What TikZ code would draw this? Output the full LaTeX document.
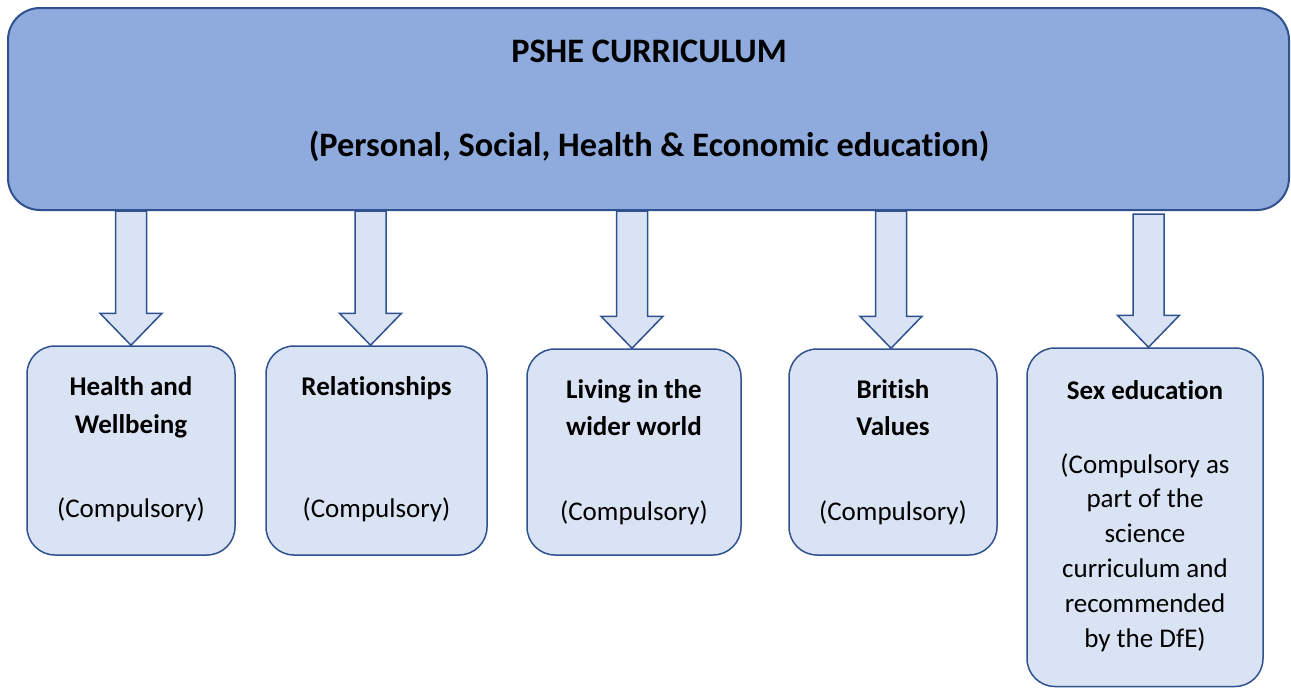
\documentclass[tikz,border=0pt]{standalone}
\usepackage{fontspec}
\setmainfont{Carlito}[Ligatures={NoCommon}]
\usetikzlibrary{calc}
\definecolor{topfill}{HTML}{8FAADC}
\definecolor{edge}{HTML}{2F528F}
\definecolor{lightfill}{HTML}{DAE3F3}
\tikzset{
 topbox/.style={draw=edge, fill=topfill, line width=2pt, rounded corners=32pt, inner sep=0pt},
 lbox/.style={draw=edge, fill=lightfill, line width=1.5pt, rounded corners=28pt, inner sep=0pt},
 barrowstyle/.style={draw=edge, fill=lightfill, line width=1.5pt, line join=miter},
 ttl/.style={anchor=base, font=\bfseries\fontsize{27}{34}\selectfont, inner sep=0pt},
 sub/.style={anchor=base, font=\fontsize{27}{34}\selectfont, inner sep=0pt},
 head/.style={anchor=base, font=\bfseries\fontsize{34.3}{41}\selectfont, inner sep=0pt},
}
\newcommand\blockarr[3]{%
 \draw[barrowstyle] let \p1=($(#2.north)+(#1pt,0)$), \p2=(top.south) in
 (\x1-15.5pt,\y2-#3pt) -- (\x1-15.5pt,\y1+32pt) -- (\x1-31pt,\y1+32pt) -- (\x1,\y1)
 -- (\x1+31pt,\y1+32pt) -- (\x1+15.5pt,\y1+32pt) -- (\x1+15.5pt,\y2-#3pt) -- cycle;}
\begin{document}
\begin{tikzpicture}[x=1pt,y=-1pt]
\useasboundingbox (0,0) rectangle (1291,688);
\fill[white] (0,0) rectangle (1291,688);
% top box
\node[topbox, minimum width=1281pt, minimum height=202pt] (top) at (648.5,109) {};
\node[head] (h1) at (649,62) {PSHE CURRICULUM};
\node[head] (h2) at (649,156) {(Personal, Social, Health \& Economic education)};
% lower boxes
\node[lbox, minimum width=208pt, minimum height=209pt] (b1) at (131,450.5) {};
\node[lbox, minimum width=221pt, minimum height=209pt] (b2) at (376.5,450.5) {};
\node[lbox, minimum width=214pt, minimum height=206pt] (b3) at (634,452) {};
\node[lbox, minimum width=208pt, minimum height=206pt] (b4) at (893,452) {};
\node[lbox, minimum width=236pt, minimum height=338.5pt] (b5) at (1145,517.25) {};
% arrows
\blockarr{0}{b1}{0}
\blockarr{-6}{b2}{0}
\blockarr{-2}{b3}{0}
\blockarr{-2}{b4}{0}
\blockarr{3.5}{b5}{3}
% texts
\node[ttl] (t1a) at (131,395) {Health and};
\node[ttl] (t1b) at (131,433) {Wellbeing};
\node[sub] (s1) at (131,517) {(Compulsory)};
\node[ttl] (t2a) at (376.5,395) {Relationships};
\node[sub] (s2) at (376.5,517) {(Compulsory)};
\node[ttl] (t3a) at (634,398) {Living in the};
\node[ttl] (t3b) at (634,435) {wider world};
\node[sub] (s3) at (634,520) {(Compulsory)};
\node[ttl] (t4a) at (893,398) {British};
\node[ttl] (t4b) at (893,435) {Values};
\node[sub] (s4) at (893,520) {(Compulsory)};
\node[ttl] (t5a) at (1145,399) {Sex education};
\node[sub] (s5a) at (1145,473) {(Compulsory as};
\node[sub] (s5b) at (1145,507.5) {part of the};
\node[sub] (s5c) at (1145,542.5) {science};
\node[sub] (s5d) at (1145,577.5) {curriculum and};
\node[sub] (s5e) at (1145,612.5) {recommended};
\node[sub] (s5f) at (1145,647) {by the DfE)};
\end{tikzpicture}
\end{document}
